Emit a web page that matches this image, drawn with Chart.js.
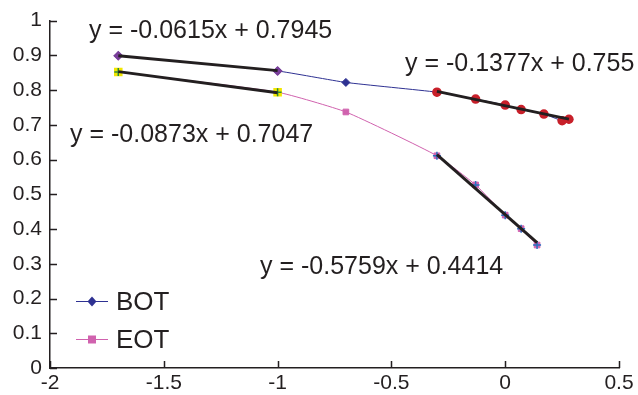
<!DOCTYPE html>
<html>
<head>
<meta charset="utf-8">
<script src="https://cdn.jsdelivr.net/npm/chart.js@4/dist/chart.umd.min.js"></script>
<style>
  html, body { margin: 0; padding: 0; background: #fff; }
  #wrap { width: 638px; height: 395px; }
</style>
</head>
<body>
<div id="wrap"><canvas id="chart" width="638" height="395"></canvas></div>
<script>
const FONT = "'Liberation Sans', Arial, sans-serif";
const INK = '#231f20';

// measured series
const botX = [-1.7, -1.0, -0.7, -0.3, -0.13, 0.0, 0.07, 0.17, 0.25, 0.28];
const botY = [0.899, 0.855, 0.822, 0.794, 0.774, 0.757, 0.744, 0.731, 0.712, 0.716];
const eotX = [-1.7, -1.0, -0.7, -0.3, -0.13, 0.0, 0.07, 0.14];
const eotY = [0.852, 0.794, 0.737, 0.611, 0.527, 0.440, 0.401, 0.354];

// linear fits: BOT low, BOT high, EOT low, EOT high
const fitSlopes = [-0.0615, -0.1377, -0.0873, -0.5759];
const fitIntercepts = [0.7945, 0.755, 0.7047, 0.4414];
const fitFrom = [-1.7, -0.3, -1.7, -0.3];
const fitTo = [-1.0, 0.28, -1.0, 0.14];
const fitLabelPos = [[89, 38], [405, 71], [70, 142], [260, 274]];

const xTicks = [-2, -1.5, -1, -0.5, 0, 0.5];
const yTicks = [0, 0.1, 0.2, 0.3, 0.4, 0.5, 0.6, 0.7, 0.8, 0.9, 1];

const pts = (xs, ys) => xs.map((x, i) => ({ x: x, y: ys[i] }));
const pick = (xs, ys, lo, hi) => pts(xs, ys).filter(p => p.x >= lo - 1e-9 && p.x <= hi + 1e-9);

const fitSets = fitSlopes.map((m, i) => ({
  label: 'fit' + i,
  data: [fitFrom[i], fitTo[i]].map(x => ({ x: x, y: m * x + fitIntercepts[i] })),
  showLine: true, borderColor: INK, borderWidth: 3, pointRadius: 0
}));

const fitLabel = i => 'y = ' + fitSlopes[i] + 'x + ' + fitIntercepts[i];

const markerSet = (label, data, style, r, fill, stroke) => ({
  label: label, data: data, showLine: false,
  pointStyle: style, pointRadius: r, pointBackgroundColor: fill,
  pointBorderColor: stroke, pointBorderWidth: 1.5
});

const datasets = fitSets.concat([
  markerSet('fitpts1', pick(botX, botY, fitFrom[1], fitTo[1]), 'circle', 4, '#c8202a', '#c8202a'),
  markerSet('fitpts0', pick(botX, botY, fitFrom[0], fitTo[0]), 'rectRot', 4, '#7a3f9a', '#7a3f9a'),
  markerSet('fitpts2x', pick(eotX, eotY, fitFrom[2], fitTo[2]), 'cross', 4, '#2e8b3a', '#2e8b3a'),
  markerSet('fitpts3x', pick(eotX, eotY, fitFrom[3], fitTo[3]), 'cross', 4, '#2a9fc0', '#2a6fc0'),
  markerSet('fitpts2', pick(eotX, eotY, fitFrom[2], fitTo[2]), 'rect', 5, '#f2e600', '#f2e600'),
  {
    label: 'BOT', data: pts(botX, botY), showLine: true,
    borderColor: '#2e3192', borderWidth: 1, tension: 0.15,
    pointStyle: 'rectRot', pointRadius: 4, pointBackgroundColor: '#2e3192', pointBorderColor: '#2e3192'
  },
  {
    label: 'EOT', data: pts(eotX, eotY), showLine: true,
    borderColor: '#d062ae', borderWidth: 1, tension: 0.15,
    pointStyle: 'rect', pointRadius: 4, pointBackgroundColor: '#d062ae', pointBorderColor: '#d062ae'
  }
]);

// axis ticks pointing into the plot, equation labels and the legend
const decorations = {
  id: 'decorations',
  afterDraw(chart) {
    const ctx = chart.ctx;
    const xs = chart.scales.x, ys = chart.scales.y;
    const area = chart.chartArea;
    ctx.save();
    ctx.strokeStyle = INK;
    ctx.lineWidth = 1.5;
    ctx.beginPath();
    yTicks.forEach(v => {
      const py = Math.round(ys.getPixelForValue(v)) + 0.5;
      ctx.moveTo(area.left, py);
      ctx.lineTo(area.left + 7, py);
    });
    xTicks.forEach(v => {
      const px = Math.round(xs.getPixelForValue(v)) + 0.5;
      ctx.moveTo(px, area.bottom);
      ctx.lineTo(px, area.bottom - 7);
    });
    ctx.stroke();

    ctx.fillStyle = INK;
    ctx.font = '25px ' + FONT;
    ctx.textBaseline = 'alphabetic';
    ctx.textAlign = 'left';
    fitSlopes.forEach((m, i) => ctx.fillText(fitLabel(i), fitLabelPos[i][0], fitLabelPos[i][1]));

    const legendRows = [
      { ds: chart.data.datasets.find(d => d.label === 'BOT'), y: 301 },
      { ds: chart.data.datasets.find(d => d.label === 'EOT'), y: 339 }
    ];
    ctx.font = '26px ' + FONT;
    legendRows.forEach(row => {
      ctx.strokeStyle = row.ds.borderColor;
      ctx.lineWidth = 1;
      ctx.beginPath();
      ctx.moveTo(76, row.y + 0.5);
      ctx.lineTo(108, row.y + 0.5);
      ctx.stroke();
      ctx.fillStyle = row.ds.pointBackgroundColor;
      ctx.beginPath();
      if (row.ds.pointStyle === 'rect') {
        ctx.rect(88, row.y - 3.5, 8, 8);
      } else {
        ctx.moveTo(92, row.y - 4.5);
        ctx.lineTo(96.5, row.y + 0.5);
        ctx.lineTo(92, row.y + 5.5);
        ctx.lineTo(87.5, row.y + 0.5);
        ctx.closePath();
      }
      ctx.fill();
      ctx.fillStyle = INK;
      ctx.fillText(row.ds.label, 116, row.y + 9);
    });
    ctx.restore();
  }
};

new Chart(document.getElementById('chart').getContext('2d'), {
  type: 'scatter',
  data: { datasets: datasets },
  options: {
    responsive: false,
    animation: false,
    layout: { padding: { left: 0, top: 19, right: 19, bottom: 0 } },
    plugins: { legend: { display: false }, tooltip: { enabled: false } },
    scales: {
      x: {
        type: 'linear', min: -2, max: 0.5,
        afterBuildTicks: s => { s.ticks = xTicks.map(v => ({ value: v })); },
        afterFit: s => { s.height = 27; },
        grid: { display: false, drawTicks: false },
        border: { display: true, color: INK, width: 1.5 },
        ticks: { color: INK, font: { family: FONT, size: 21 }, padding: 3, maxRotation: 0, callback: v => String(v) }
      },
      y: {
        type: 'linear', min: 0, max: 1,
        afterBuildTicks: s => { s.ticks = yTicks.map(v => ({ value: v })); },
        afterFit: s => { s.width = 50; },
        grid: { display: false, drawTicks: false },
        border: { display: true, color: INK, width: 1.5 },
        ticks: { color: INK, font: { family: FONT, size: 21 }, padding: 8, callback: v => String(v) }
      }
    }
  },
  plugins: [decorations]
});
</script>
</body>
</html>
